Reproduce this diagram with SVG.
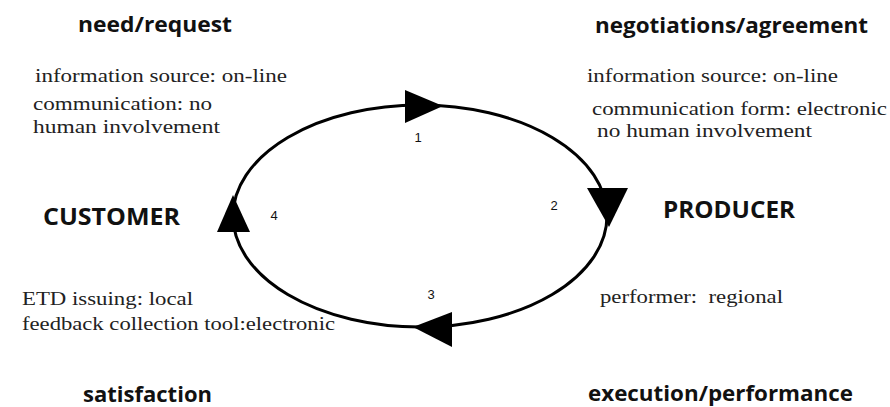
<svg xmlns="http://www.w3.org/2000/svg" width="890" height="407" viewBox="0 0 890 407">
<style>
.title{font-family:"Open Sans","Liberation Sans",sans-serif;font-weight:bold;fill:#111;}
.big{font-family:"Open Sans","Liberation Sans",sans-serif;font-weight:bold;fill:#111;font-size:23px;}
.body{font-family:"Liberation Serif","DejaVu Serif",serif;font-size:19px;fill:#222;}
.num{font-family:"Liberation Sans",sans-serif;font-size:13px;fill:#111;text-anchor:middle;}
.ring{fill:none;stroke:#000;stroke-width:3;}
.head{fill:#000;}
</style>
<rect width="890" height="407" fill="#fff"/>
<g id="connectors">
<ellipse class="ring" cx="420" cy="216" rx="187" ry="111"/>
<polygon class="head" points="405,90 443,106 405,123"/>
<polygon class="head" points="587,188 628,188 609,227"/>
<polygon class="head" points="452,312 452,347 413,327"/>
<polygon class="head" points="217,232 250,232 233,195"/>
<text class="num" x="418" y="142">1</text>
<text class="num" x="554" y="210">2</text>
<text class="num" x="431" y="299">3</text>
<text class="num" x="274" y="220">4</text>
</g>
<g id="need-request">
<text class="title" font-size="21" x="78" y="32" textLength="154" lengthAdjust="spacingAndGlyphs">need/request</text>
<text class="body" x="35" y="82" textLength="252" lengthAdjust="spacingAndGlyphs">information source: on-line</text>
<text class="body" x="33" y="110" textLength="179" lengthAdjust="spacingAndGlyphs">communication: no</text>
<text class="body" x="33" y="133" textLength="187" lengthAdjust="spacingAndGlyphs">human involvement</text>
</g>
<g id="negotiations-agreement">
<text class="title" font-size="21" x="595" y="33" textLength="273" lengthAdjust="spacingAndGlyphs">negotiations/agreement</text>
<text class="body" x="587" y="82" textLength="251" lengthAdjust="spacingAndGlyphs">information source: on-line</text>
<text class="body" x="592" y="115" textLength="295" lengthAdjust="spacingAndGlyphs">communication form: electronic</text>
<text class="body" x="597" y="137" textLength="215" lengthAdjust="spacingAndGlyphs">no human involvement</text>
</g>
<g id="customer">
<text class="big" x="43" y="225" textLength="137" lengthAdjust="spacingAndGlyphs">CUSTOMER</text>
</g>
<g id="producer">
<text class="big" x="663" y="218" textLength="132" lengthAdjust="spacingAndGlyphs">PRODUCER</text>
</g>
<g id="satisfaction">
<text class="body" x="22" y="305" textLength="171" lengthAdjust="spacingAndGlyphs">ETD issuing: local</text>
<text class="body" x="22" y="330" textLength="313" lengthAdjust="spacingAndGlyphs">feedback collection tool:electronic</text>
<text class="title" font-size="21" x="83" y="402" textLength="129" lengthAdjust="spacingAndGlyphs">satisfaction</text>
</g>
<g id="execution-performance">
<text class="body" x="600" y="303" textLength="183" lengthAdjust="spacingAndGlyphs" xml:space="preserve">performer:  regional</text>
<text class="title" font-size="21" x="588" y="401" textLength="265" lengthAdjust="spacingAndGlyphs">execution/performance</text>
</g>
</svg>
